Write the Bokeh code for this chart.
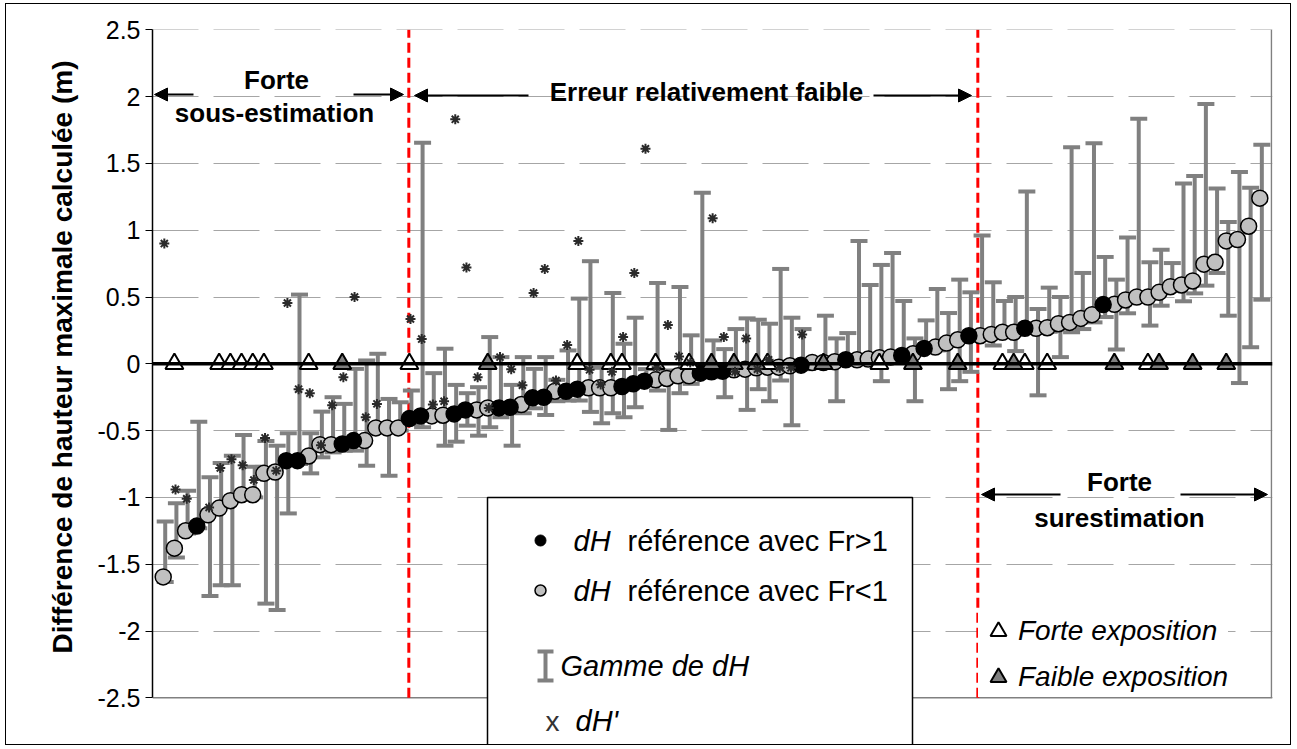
import math
from bokeh.plotting import figure
from bokeh.models import (Range1d, FixedTicker, CustomJSTickFormatter, Label, Arrow,
                          NormalHead, Legend, LegendItem, ColumnDataSource, Span, Title)
from bokeh.embed import file_html
from bokeh.resources import INLINE

NaN = float("nan")

# ---------------- data ----------------
dh = [-1.595, -1.38, -1.25, -1.215, -1.13, -1.08, -1.025, -0.98, -0.98, -0.82,
      -0.81, -0.725, -0.725, -0.69, -0.605, -0.605, -0.60, -0.575, -0.575, -0.48,
      -0.48, -0.48, -0.41, -0.39, -0.39, -0.385, -0.375, -0.345, -0.345, -0.33,
      -0.33, -0.325, -0.305, -0.255, -0.25, -0.205, -0.205, -0.19, -0.18, -0.18,
      -0.18, -0.17, -0.15, -0.13, -0.12, -0.11, -0.09, -0.09, -0.07, -0.06,
      -0.055, -0.045, -0.04, -0.03, -0.025, -0.025, -0.015, -0.01, 0.01, 0.01,
      0.015, 0.03, 0.03, 0.035, 0.045, 0.05, 0.062, 0.075, 0.115, 0.125,
      0.155, 0.18, 0.21, 0.21, 0.22, 0.236, 0.236, 0.266, 0.266, 0.27,
      0.30, 0.31, 0.34, 0.368, 0.443, 0.445, 0.478, 0.50, 0.50, 0.535,
      0.577, 0.59, 0.62, 0.746, 0.76, 0.92, 0.93, 1.03, 1.24]

# B = reference with Fr>1 (black), G = reference with Fr<1 (grey)
froude = list("GGGBGGGGGG" "GBBGGGBBGG" "GGBBGGBBGG" "BBGBBGBBGG" "GBBBGGGGBB"
              "BGGGGGGBGG" "GBGGGGBGBG" "GGBGGGGBGG" "GGGGBGGGGG" "GGGGGGGGG")

dh_min = [-1.633, -1.45, -1.27, -1.23, -1.738, -1.658, -1.658, -1.0, -1.0, -1.795,
          -1.843, -1.12, -0.75, -0.82, -0.70, -0.663, -0.65, -0.65, -0.763, -0.50,
          -0.838, -0.50, -0.45, -0.475, -0.42, -0.613, -0.583, -0.463, -0.538, -0.475,
          -0.40, -0.613, -0.37, -0.333, -0.383, -0.28, -0.275, -0.275, -0.36, -0.445,
          -0.37, -0.40, -0.325, -0.16, -0.20, -0.495, -0.22, -0.15, -0.10, -0.10,
          -0.25, -0.07, -0.345, -0.19, -0.28, -0.125, -0.46, -0.04, -0.01, -0.02,
          -0.28, 0.0, 0.0, 0.0, -0.13, 0.02, 0.03, -0.28, 0.09, 0.10,
          -0.19, -0.13, -0.06, 0.18, 0.137, 0.21, 0.095, 0.24, -0.236, 0.24,
          0.05, 0.236, 0.26, 0.31, 0.35, 0.107, 0.378, 0.47, 0.286, 0.435,
          0.55, 0.468, 0.527, 0.585, 0.68, 0.36, -0.144, 0.124, 0.48]

dh_max = [-1.18, -1.043, -0.95, -0.433, -0.85, -0.743, -0.688, -0.533, -0.77, -0.578,
          -0.613, -0.52, 0.518, -0.52, -0.358, -0.25, -0.30, -0.038, 0.025, 0.075,
          -0.263, -0.288, -0.20, 1.655, -0.07, 0.113, -0.158, -0.22, -0.175, 0.20,
          0.05, -0.158, 0.05, -0.038, 0.05, -0.12, 0.10, 0.488, 0.768, -0.03,
          0.53, 0.15, 0.345, -0.04, 0.605, -0.05, 0.575, 0.213, 1.28, 0.175,
          0.11, 0.26, 0.34, 0.33, 0.30, 0.71, 0.345, 0.26, 0.03, 0.36,
          0.19, 0.23, 0.92, 0.59, 0.74, 0.83, 0.47, 0.19, 0.325, 0.56,
          0.38, 0.63, 0.535, 0.96, 0.61, 0.47, 0.50, 1.29, 0.41, 0.57,
          0.50, 1.62, 0.68, 1.65, 0.80, 0.63, 0.945, 1.835, 0.76, 0.853,
          0.754, 1.35, 1.405, 1.945, 1.313, 1.062, 1.435, 1.318, 1.64]

dh_prime = [0.90, -0.94, -1.01, NaN, -1.075, -0.78, -0.715, -0.76, -0.87, -0.555,
            -0.80, 0.455, -0.19, -0.22, -0.61, -0.31, -0.10, 0.50, -0.40, -0.30,
            NaN, NaN, 0.335, 0.185, -0.305, -0.28, 1.83, 0.72, -0.10, -0.33,
            0.05, -0.04, -0.16, 0.53, 0.71, -0.125, 0.14, 0.92, -0.045, -0.155,
            -0.06, 0.20, 0.68, 1.61, -0.025, 0.29, 0.055, 0.01, NaN, 1.09,
            0.20, -0.06, 0.19, -0.04, 0.03, -0.03, -0.03, 0.22] + [NaN] * 41

forte_expo = [2, 6, 7, 8, 9, 10, 14, 23, 38, 41, 42, 45, 48, 55, 65, 76, 78, 80, 89]
faible_expo = [17, 30, 50, 52, 54, 60, 68, 72, 77, 86, 90, 93, 96]

zone_limits = [22.95, 73.8]
y_ticks = [-2.5, -2.0, -1.5, -1.0, -0.5, 0.0, 0.5, 1.0, 1.5, 2.0, 2.5]

# ---------------- layout helpers (page pixels -> data) ----------------
PX0, PXS = 162.7, 11.19
PY0, PYS = 363.3, 133.6
def XD(px): return 1 + (px - PX0) / PXS
def YD(py): return (PY0 - py) / PYS

MX, MY = 5, 3                 # css margin of the figure (page origin is 0,0)
OX, OY = MX + 1, MY + 1       # content origin (after 1px border)
W, H = 1286, 742
FL, FR, FT, FB = 152, 1272, 29, OY + H

FONT = "Liberation Sans"
GREY_BAR = "#808080"

p = figure(width=W, height=H, output_backend="svg", toolbar_location=None,
           x_range=Range1d(XD(FL), XD(FR)), y_range=Range1d(YD(FB), YD(FT)),
           x_axis_type=None,
           min_border_left=FL - OX, min_border_right=OX + W - FR,
           min_border_top=FT - OY, min_border_bottom=0)
p.margin = (MY, 0, 0, MX)
p.styles = {"border": "1px solid black"}
p.outline_line_color = None
p.background_fill_color = "white"
p.border_fill_color = "white"

# y axis
ax = p.yaxis[0]
ax.ticker = FixedTicker(ticks=y_ticks)
ax.bounds = (-2.5, 2.5)
ax.formatter = CustomJSTickFormatter(code="return String(tick)")
ax.major_label_text_font = FONT
ax.major_label_text_font_size = "25px"
ax.major_label_text_color = "black"
ax.major_tick_out = 7
ax.major_tick_in = 0
ax.minor_tick_line_color = None
ax.axis_line_width = 1.5
ax.axis_line_color = "black"
ax.major_tick_line_color = "black"
ax.major_label_standoff = 5

ytitle = Title(text="Différence de hauteur maximale calculée (m)", align="right",
               offset=31, standoff=33, text_font=FONT, text_font_size="28px",
               text_font_style="bold", text_color="black")
p.add_layout(ytitle, "left")

p.xgrid.visible = False
p.ygrid.ticker = FixedTicker(ticks=[t for t in y_ticks if t != 0.0])
p.ygrid.grid_line_color = "#a6a6a6"
p.ygrid.grid_line_dash = "46 15"
p.ygrid.grid_line_width = 1

# plot-area border (right, bottom)
p.line(x=[XD(1271), XD(1271)], y=[-2.5, 2.5], line_color="#808080", line_width=1.5)
p.line(x=[XD(FL), XD(FR)], y=[-2.5, -2.5], line_color="#808080", line_width=1.5)

# zero axis line
p.add_layout(Span(location=0, dimension="width", line_color="black", line_width=3.5))

# zone limits
for xl in zone_limits:
    p.line(x=[xl, xl], y=[-2.5, 2.5], line_color="red", line_width=3, line_dash="10 5")

n = len(dh)
idx = list(range(1, n + 1))
xb = [i + 0.18 for i in idx]

# range of dH (error bars)
p.segment(x0=xb, y0=dh_min, x1=xb, y1=dh_max, line_color=GREY_BAR, line_width=4)
p.scatter(x=xb, y=dh_max, marker="dash", size=17, line_color=GREY_BAR, line_width=4)
p.scatter(x=xb, y=dh_min, marker="dash", size=17, line_color=GREY_BAR, line_width=4)

# points
src_b = ColumnDataSource(dict(x=[i for i, f in zip(idx, froude) if f == "B"],
                              y=[v for v, f in zip(dh, froude) if f == "B"]))
src_g = ColumnDataSource(dict(x=[i for i, f in zip(idx, froude) if f == "G"],
                              y=[v for v, f in zip(dh, froude) if f == "G"]))
p.scatter("x", "y", source=src_g, marker="circle", size=16, fill_color="#c0c0c0",
          line_color="black", line_width=1.5)
p.scatter("x", "y", source=src_b, marker="circle", size=16, fill_color="black",
          line_color="black", line_width=1.5)

# exposition triangles on the zero line
r_forte = p.scatter(x=forte_expo, y=[0.0] * len(forte_expo), marker="triangle", size=18,
                    fill_color="white", line_color="black", line_width=2)
r_faible = p.scatter(x=faible_expo, y=[0.0] * len(faible_expo), marker="triangle", size=18,
                     fill_color="#808080", line_color="black", line_width=2)

# dH'
p.scatter(x=[i + 0.1 for i in idx], y=dh_prime, marker="asterisk", size=10,
          line_color="#2a2a2a", line_width=2)

# ---------------- annotations ----------------
def label(px, py, text, size, style="normal", align="center", color="black"):
    p.add_layout(Label(x=XD(px), y=YD(py), text=text, text_font=FONT,
                       text_font_size=size, text_font_style=style, text_align=align,
                       text_baseline="middle", text_color=color))

def arrow(px0, px1, py):
    p.add_layout(Arrow(end=NormalHead(size=13, fill_color="black", line_color="black"),
                       x_start=XD(px0), y_start=YD(py), x_end=XD(px1), y_end=YD(py),
                       line_color="black", line_width=2))

label(276, 79, "Forte", "26px", "bold")
label(274, 112, "sous-estimation", "26px", "bold")
arrow(193, 154, 94)
arrow(353, 403, 94)
label(706, 91, "Erreur relativement faible", "26px", "bold")
arrow(528, 414, 95)
arrow(873, 971, 95)
label(1119, 481, "Forte", "26px", "bold")
label(1119, 517, "surestimation", "26px", "bold")
arrow(1060, 981, 494)
arrow(1180, 1267, 494)

# ---------------- main legend (drawn) ----------------
p.quad(left=[XD(487)], right=[XD(912)], top=[YD(497)], bottom=[YD(770)],
       fill_color="white", line_color="black", line_width=1.5)
p.scatter(x=[XD(540)], y=[YD(540)], marker="circle", size=11, fill_color="black",
          line_color="black")
p.scatter(x=[XD(540)], y=[YD(590)], marker="circle", size=11, fill_color="#c0c0c0",
          line_color="black", line_width=1.5)
p.segment(x0=[XD(545)], y0=[YD(651)], x1=[XD(545)], y1=[YD(680)],
          line_color=GREY_BAR, line_width=4)
p.scatter(x=[XD(545), XD(545)], y=[YD(651), YD(680)], marker="dash", size=16,
          line_color=GREY_BAR, line_width=4)
label(552, 721, "x", "28px", "normal", color="#333333")
label(573, 540, "dH", "29px", "italic", align="left")
label(627, 540, "référence avec Fr>1", "29px", "normal", align="left")
label(573, 590, "dH", "29px", "italic", align="left")
label(627, 590, "référence avec Fr<1", "29px", "normal", align="left")
label(560, 665, "Gamme de dH", "29px", "italic", align="left")
label(575, 720, "dH'", "29px", "italic", align="left")

# ---------------- exposition legend ----------------
leg = Legend(items=[LegendItem(label="Forte exposition", renderers=[r_forte]),
                    LegendItem(label="Faible exposition", renderers=[r_faible])],
             location=(978 - FL, FB - 697), glyph_width=40, glyph_height=40,
             spacing=6, padding=6, label_standoff=0, margin=0,
             label_text_font=FONT, label_text_font_style="italic",
             label_text_font_size="28px", label_text_color="black",
             border_line_color=None,
             background_fill_color="white", background_fill_alpha=1.0)
p.add_layout(leg)

open("out.html", "w").write(file_html(p, INLINE))
